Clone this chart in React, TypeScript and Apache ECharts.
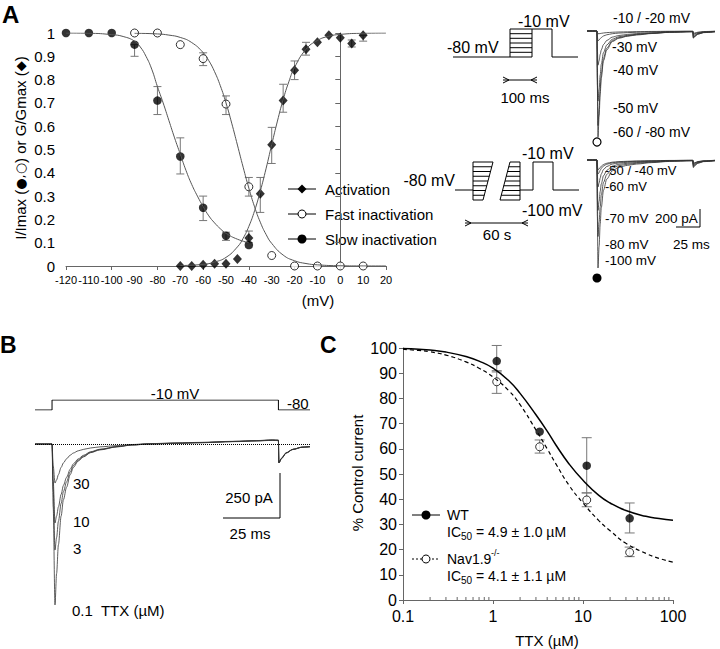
import React, { useEffect, useRef } from "react";
import * as echarts from "echarts";

const FONT = "'Liberation Sans', Arial, Helvetica, sans-serif";

// ---------------- Panel A : activation / inactivation ----------------
const actV = [-70, -65, -60, -55, -50, -45, -40, -35, -30, -25, -20, -15, -10, -5, 0, 5, 10];
const actG = [0, 0, 0.005, 0.01, 0.01, 0.03, 0.12, 0.31, 0.52, 0.71, 0.84, 0.93, 0.96, 0.99, 0.98, 0.955, 0.99];
const actErr = [
  [-40, 0.1, 0.15], [-35, 0.23, 0.38], [-30, 0.44, 0.595], [-25, 0.66, 0.78],
  [-20, 0.8, 0.88], [-15, 0.905, 0.96], [5, 0.94, 0.97], [10, 0.965, 0.99],
];
const fastV = [-90, -80, -70, -60, -50, -40, -30, -20, -10, 0, 10];
const fastI = [1, 1, 0.95, 0.89, 0.695, 0.34, 0.045, 0, 0, 0, 0];
const fastErr = [[-60, 0.86, 0.915], [-50, 0.65, 0.73], [-40, 0.3, 0.38]];
const slowV = [-120, -110, -100, -90, -80, -70, -60, -50, -40];
const slowI = [1, 1, 1, 0.95, 0.71, 0.47, 0.25, 0.13, 0.09];
const slowErr = [[-90, 0.9, 0.95], [-80, 0.65, 0.77], [-70, 0.395, 0.55], [-60, 0.195, 0.3], [-50, 0.11, 0.145]];

const actFitV = [-70, -60, -55, -50, -45, -42.5, -40, -37.5, -35, -32.5, -30, -27.5, -25, -22.5, -20, -15, -10, -5, 0, 10, 20];
const actFitG = [0.002, 0.007, 0.017, 0.037, 0.082, 0.119, 0.17, 0.237, 0.321, 0.417, 0.521, 0.622, 0.714, 0.791, 0.852, 0.93, 0.968, 0.986, 0.994, 0.999, 1];
const fastFitV = [-90, -80, -75, -70, -65, -60, -57.5, -55, -52.5, -50, -47.5, -45, -42.5, -40, -37.5, -35, -32.5, -30, -25, -20, -15, -10, 0, 10, 20];
const fastFitI = [0.999, 0.996, 0.991, 0.981, 0.959, 0.916, 0.881, 0.834, 0.774, 0.7, 0.613, 0.519, 0.424, 0.334, 0.254, 0.188, 0.136, 0.097, 0.047, 0.0225, 0.0106, 0.005, 0.001, 0.0002, 0];
const slowFitV = [-120, -110, -100, -95, -90, -87.5, -85, -82.5, -80, -77.5, -75, -72.5, -70, -67.5, -65, -62.5, -60, -57.5, -55, -52.5, -50, -45, -40];
const slowFitI = [1, 0.999, 0.993, 0.985, 0.965, 0.94, 0.9, 0.845, 0.77, 0.7, 0.625, 0.55, 0.48, 0.41, 0.35, 0.3, 0.255, 0.215, 0.185, 0.16, 0.14, 0.115, 0.1];

// ---------------- Panel A : current traces (ms, pA) ----------------
const traceT = [-9, 0, 0.4, 1, 2, 3, 4, 6, 9, 14, 20, 28, 36, 50, 66, 86, 87.3, 87.7, 89, 92, 97, 107.4];
const fastM60 = [0, 0, -600, -1180, -950, -700, -520, -330, -210, -118, -80, -58, -44, -28, -15, -8, -8, -80, -60, -35, -18, -8];
const fastM50 = [0, 0, -520, -1050, -860, -640, -480, -300, -190, -108, -74, -54, -40, -26, -14, -8, -8, -76, -57, -33, -17, -8];
const fastM40 = [0, 0, -400, -780, -650, -490, -370, -240, -155, -92, -64, -48, -36, -24, -13, -7, -7, -70, -52, -30, -15, -7];
const fastM30 = [0, 0, -200, -380, -330, -260, -210, -150, -105, -68, -50, -38, -29, -20, -11, -6, -6, -55, -42, -25, -12, -6];
const fastM20 = [0, 0, -60, -110, -100, -85, -72, -55, -42, -30, -23, -18, -14, -10, -6, -4, -4, -40, -30, -18, -9, -4];
const fastM10 = [0, 0, -20, -30, -30, -28, -26, -22, -18, -14, -11, -9, -7, -5, -3, -2, -2, -30, -22, -13, -6, -2];
const slowM100 = [0, 0, -620, -1200, -960, -710, -530, -335, -212, -120, -81, -59, -45, -29, -16, -9, -9, -85, -62, -36, -18, -9];
const slowM80 = [0, 0, -440, -850, -690, -520, -390, -250, -160, -92, -63, -47, -36, -24, -13, -8, -8, -75, -55, -32, -16, -8];
const slowM70 = [0, 0, -290, -560, -460, -350, -265, -175, -115, -68, -48, -36, -28, -19, -11, -6, -6, -65, -48, -28, -14, -6];
const slowM60 = [0, 0, -160, -300, -255, -200, -155, -105, -72, -45, -33, -25, -20, -14, -8, -5, -5, -55, -40, -23, -12, -5];
const slowM50 = [0, 0, -85, -156, -140, -115, -92, -66, -47, -31, -23, -18, -14, -10, -6, -4, -4, -45, -33, -19, -10, -4];
const slowM40 = [0, 0, -60, -108, -100, -84, -68, -50, -36, -24, -18, -14, -11, -8, -5, -3, -3, -40, -30, -17, -9, -3];

// ---------------- Panel B : TTX traces (ms, pA) ----------------
const bProtoT = [-7.5, 0, 0, 99.6, 99.6, 113.5];
const bProtoV = [-80, -80, -10, -10, -80, -80];
const bTime = [-7.5, 0, 0.5, 1.3, 2, 2.8, 4, 5, 6.4, 8, 9.4, 11.5, 13.8, 17, 21, 28.6, 35, 43, 55, 65, 80, 90, 97, 99.6, 99.8, 101, 103, 106, 110, 113.5];
const bTtx01 = [0, 0, -350, -894, -720, -560, -400, -310, -240, -170, -130, -95, -72, -48, -33, -16, -6, 0, 4, 7, 14, 18, 22, 20, -105, -80, -50, -30, -18, -15];
const bTtx3 = [0, 0, -250, -589, -520, -430, -330, -265, -210, -155, -120, -90, -68, -46, -31, -15, -5, 0, 4, 7, 13, 17, 20, 19, -105, -80, -50, -30, -18, -15];
const bTtx10 = [0, 0, -200, -439, -400, -350, -280, -230, -185, -140, -110, -83, -63, -43, -29, -14, -5, 1, 5, 8, 14, 18, 21, 20, -105, -80, -50, -30, -18, -15];
const bTtx30 = [0, 0, -120, -217, -200, -170, -130, -105, -82, -62, -50, -38, -30, -22, -16, -9, -3, 2, 6, 9, 15, 19, 23, 22, -100, -78, -48, -29, -17, -14];

// ---------------- Panel C : dose response ----------------
const ttxConc = [0.1, 0.33, 1.1, 3.3, 11, 33];
const wtCurrent = [101, 101, 94.8, 66.8, 53.3, 32.4];
const navConc = [1.1, 3.3, 11, 33];
const navCurrent = [86.6, 60.8, 39.7, 18.9];
const wtErr = [[1.1, 90.5, 101], [11, 42.5, 64.4], [33, 26.6, 38.5]];
const navErr = [[1.1, 82, 91], [3.3, 58.3, 63.5], [11, 37, 42.5], [33, 17.2, 21]];
const fitConc = [0.1, 0.15, 0.2, 0.3, 0.5, 0.7, 1, 1.5, 2, 3, 4, 5, 7, 10, 15, 20, 30, 50, 70, 100];
const wtFit = [99.8, 99.5, 99.2, 98.4, 96.6, 94.8, 92, 87, 82, 73.5, 67, 61.5, 54, 47.5, 41.5, 38.5, 35.5, 33.2, 32.3, 31.6];
const navFit = [99.5, 99, 98.5, 97.2, 94.5, 92, 88.5, 83, 77.5, 67.5, 60, 54, 45.5, 38.5, 31.5, 27.5, 22.5, 18.5, 16.5, 15];
const cMinorTicks = [0.2, 0.3, 0.4, 0.5, 0.6, 0.7, 0.8, 0.9, 2, 3, 4, 5, 6, 7, 8, 9, 20, 30, 40, 50, 60, 70, 80, 90];

const zip = (a: number[], b: number[]) => a.map((v, i) => [v, b[i]]);

const errRender = (capW: number, color: string) => (_p: any, api: any) => {
  const x = api.value(0);
  const lo = api.coord([x, api.value(1)]);
  const hi = api.coord([x, api.value(2)]);
  const h = capW / 2;
  const st = { stroke: color, lineWidth: 1 };
  return {
    type: "group",
    children: [
      { type: "line", shape: { x1: lo[0], y1: lo[1], x2: hi[0], y2: hi[1] }, style: st },
      { type: "line", shape: { x1: lo[0] - h, y1: lo[1], x2: lo[0] + h, y2: lo[1] }, style: st },
      { type: "line", shape: { x1: hi[0] - h, y1: hi[1], x2: hi[0] + h, y2: hi[1] }, style: st },
    ],
  };
};

const T = (text: string, x: number, y: number, o: any = {}) => ({
  type: "text",
  x,
  y,
  rotation: o.rot || 0,
  silent: true,
  style: {
    text,
    fontSize: o.size || 15,
    fontFamily: FONT,
    fontWeight: o.bold ? "bold" : "normal",
    fill: "#000",
    textAlign: o.align || "left",
    textVerticalAlign: "middle",
    rich: o.rich,
  },
});
const L = (x1: number, y1: number, x2: number, y2: number, o: any = {}) => ({
  type: "line",
  silent: true,
  shape: { x1, y1, x2, y2 },
  style: { stroke: o.color || "#000", lineWidth: o.w || 1, lineDash: o.dash },
});
const PL = (points: number[][], o: any = {}) => ({
  type: "polyline",
  silent: true,
  shape: { points },
  style: { stroke: o.color || "#000", lineWidth: o.w || 1, fill: null },
});

function buildGraphics() {
  const g: any[] = [];
  g.push(T("A", 2, 14, { size: 24, bold: true }));
  g.push(T("B", 0, 345, { size: 23, bold: true }));
  g.push(T("C", 320, 345, { size: 23, bold: true }));

  // Panel A axis titles
  g.push(
    T("{a|I/Imax (}{s|\u25CF,\u25CB}{a|) or G/Gmax (}{s|\u25C6}{a|)}", 20, 148, {
      rot: Math.PI / 2,
      align: "center",
      rich: {
        a: { fontSize: 15, fontFamily: FONT, fill: "#000" },
        s: { fontSize: 13, fontFamily: "'DejaVu Sans', sans-serif", fill: "#000" },
      },
    })
  );
  g.push(T("(mV)", 318, 300, { align: "center" }));

  // Panel A legend
  const lx1 = 288, lx2 = 316, sx = 302, tx = 325;
  g.push(L(lx1, 189, lx2, 189));
  g.push({ type: "polygon", silent: true, shape: { points: [[sx, 184.5], [sx + 4.5, 189], [sx, 193.5], [sx - 4.5, 189]] }, style: { fill: "#000" } });
  g.push(T("Activation", tx, 189));
  g.push(L(lx1, 214, lx2, 214));
  g.push({ type: "circle", silent: true, shape: { cx: sx, cy: 214, r: 4 }, style: { fill: "#fff", stroke: "#000", lineWidth: 1 } });
  g.push(T("Fast inactivation", tx, 214));
  g.push(L(lx1, 239, lx2, 239));
  g.push({ type: "circle", silent: true, shape: { cx: sx, cy: 239, r: 4.5 }, style: { fill: "#000" } });
  g.push(T("Slow inactivation", tx, 239));

  // Schematic 1 (fast inactivation protocol)
  g.push(T("-80 mV", 447, 47, { size: 16 }));
  g.push(T("-10 mV", 518, 21, { size: 16 }));
  g.push(PL([[453, 57], [510, 57]]));
  g.push({ type: "rect", silent: true, shape: { x: 510, y: 29, width: 22, height: 28 }, style: { stroke: "#000", fill: null, lineWidth: 1 } });
  [33.7, 38.3, 43, 47.7, 52.3].forEach((y) => g.push(L(510, y, 532, y)));
  g.push(PL([[532, 29], [552, 29], [552, 57], [578, 57]]));
  g.push(L(503, 80, 537, 80));
  g.push(PL([[503, 77], [509, 80], [503, 83]]));
  g.push(PL([[537, 77], [531, 80], [537, 83]]));
  g.push(T("100 ms", 525, 97, { align: "center" }));

  // Schematic 2 (slow inactivation protocol)
  g.push(T("-80 mV", 455, 180, { size: 16, align: "right" }));
  g.push(T("-10 mV", 522, 153, { size: 16 }));
  g.push(T("-100 mV", 522, 210, { size: 16 }));
  g.push(PL([[455, 190], [473, 190]]));
  g.push({ type: "polygon", silent: true, shape: { points: [[473, 162], [493, 162], [483, 200], [473, 200]] }, style: { stroke: "#000", fill: null, lineWidth: 1 } });
  g.push({ type: "polygon", silent: true, shape: { points: [[510, 162], [520, 162], [520, 200], [500, 200]] }, style: { stroke: "#000", fill: null, lineWidth: 1 } });
  for (let i = 1; i < 8; i++) {
    const y = 162 + i * 4.75;
    const f = (y - 162) / 38;
    g.push(L(473, y, 493 - f * 10, y));
    g.push(L(510 - f * 10, y, 520, y));
  }
  g.push(PL([[520, 190], [533, 190], [533, 162], [553, 162], [553, 190], [579, 190]]));
  g.push(L(465, 223, 528, 223));
  g.push(PL([[465, 220], [471, 223], [465, 226]]));
  g.push(PL([[528, 220], [522, 223], [528, 226]]));
  g.push(T("60 s", 497, 234, { align: "center" }));

  // Trace labels (A)
  g.push(T("-10 / -20 mV", 613, 18, { size: 14 }));
  g.push(T("-30 mV", 612, 47, { size: 14 }));
  g.push(T("-40 mV", 613, 70, { size: 14 }));
  g.push(T("-50 mV", 613, 108, { size: 14 }));
  g.push(T("-60 / -80 mV", 613, 132, { size: 14 }));
  g.push({ type: "circle", silent: true, shape: { cx: 597, cy: 142, r: 4 }, style: { fill: "#fff", stroke: "#000", lineWidth: 1.2 } });
  g.push(T("-50 / -40 mV", 605, 170, { size: 13 }));
  g.push(T("-60 mV", 605, 186, { size: 13 }));
  g.push(T("-70 mV", 605, 218, { size: 13.5 }));
  g.push(T("-80 mV", 605, 244, { size: 13.5 }));
  g.push(T("-100 mV", 605, 260, { size: 13.5 }));
  g.push({ type: "circle", silent: true, shape: { cx: 597, cy: 278, r: 4.5 }, style: { fill: "#000" } });
  g.push(T("200 pA", 655, 218, { size: 13.5 }));
  g.push(L(700, 209, 700, 227));
  g.push(L(676, 227, 700, 227));
  g.push(T("25 ms", 673, 244, { size: 13.5 }));

  // Panel B labels
  g.push(T("-10 mV", 175, 393, { align: "center" }));
  g.push(T("-80", 287, 403));
  g.push(T("30", 73, 483));
  g.push(T("10", 73, 521));
  g.push(T("3", 73, 548));
  g.push(T("0.1  TTX (\u00B5M)", 72, 610));
  g.push(L(280, 473, 280, 518));
  g.push(L(223, 518, 280, 518));
  g.push(T("250 pA", 249, 497, { align: "center" }));
  g.push(T("25 ms", 250, 533, { align: "center" }));

  // Panel C titles
  g.push(T("% Control current", 357, 473, { rot: Math.PI / 2, align: "center" }));
  g.push(T("TTX (\u00B5M)", 547, 640, { align: "center" }));

  // Panel C legend
  g.push(L(412, 515, 440, 515));
  g.push({ type: "circle", silent: true, shape: { cx: 426, cy: 515, r: 4.5 }, style: { fill: "#000" } });
  g.push(T("WT", 447, 515, { size: 14 }));
  g.push(T("IC", 447, 532, { size: 14 }));
  g.push(T("50", 461, 536, { size: 10 }));
  g.push(T("= 4.9 \u00B1 1.0 \u00B5M", 476, 532, { size: 14 }));
  g.push(L(412, 559, 440, 559, { dash: [2, 2] }));
  g.push({ type: "circle", silent: true, shape: { cx: 426, cy: 559, r: 4 }, style: { fill: "#fff", stroke: "#000", lineWidth: 1 } });
  g.push(T("Nav1.9", 447, 559, { size: 14 }));
  g.push(T("-/-", 491, 553, { size: 9 }));
  g.push(T("IC", 447, 576, { size: 14 }));
  g.push(T("50", 461, 580, { size: 10 }));
  g.push(T("= 4.1 \u00B1 1.1 \u00B5M", 476, 576, { size: 14 }));
  return g;
}

const hiddenX = (gi: number, min: number, max: number) => ({ gridIndex: gi, type: "value", min, max, show: false });
const hiddenY = (gi: number, min: number, max: number) => ({ gridIndex: gi, type: "value", min, max, show: false });

const traceLine = (t: number[], d: number[], xi: number, yi: number, extra: any = {}) => ({
  type: "line",
  xAxisIndex: xi,
  yAxisIndex: yi,
  data: zip(t, d),
  symbol: "none",
  smooth: 0.3,
  smoothMonotone: "x",
  silent: true,
  lineStyle: { color: "#333", width: 0.8 },
  ...extra,
});

function buildOption() {
  const axisColor = "#666";
  const fitStyle = { color: "#555", width: 1 };
  return {
    animation: false,
    backgroundColor: "#fff",
    textStyle: { fontFamily: FONT },
    grid: [
      { left: 66, top: 33, width: 320, height: 233 },
      { left: 587, top: 22, width: 128, height: 121.5 },
      { left: 587, top: 151, width: 128, height: 121.5 },
      { left: 35, top: 400, width: 275, height: 10 },
      { left: 35, top: 435, width: 275, height: 171 },
      { left: 403, top: 348, width: 270, height: 252 },
    ],
    xAxis: [
      {
        gridIndex: 0, type: "value", min: -120, max: 20, interval: 10,
        axisLine: { show: true, lineStyle: { color: axisColor } },
        axisTick: { show: false }, splitLine: { show: false },
        axisLabel: { fontSize: 11, color: "#000", margin: 8, fontFamily: FONT, showMinLabel: true, showMaxLabel: true, hideOverlap: false },
      },
      {
        gridIndex: 0, type: "value", position: "bottom", min: -120, max: 20, interval: 20,
        axisLine: { show: false }, axisTick: { show: true, length: 4, lineStyle: { color: axisColor } },
        axisLabel: { show: false }, splitLine: { show: false },
      },
      hiddenX(1, -9, 107.4),
      hiddenX(2, -9, 107.4),
      hiddenX(3, -7.5, 113.5),
      hiddenX(4, -7.5, 113.5),
      {
        gridIndex: 5, type: "log", logBase: 10, min: 0.1, max: 100,
        axisLine: { show: true, lineStyle: { color: axisColor } },
        axisTick: { show: true, length: 4, lineStyle: { color: axisColor } },
        splitLine: { show: false }, minorTick: { show: false },
        axisLabel: { fontSize: 16, color: "#000", margin: 8, fontFamily: FONT, formatter: (v: number) => String(Number(v.toPrecision(3))) },
      },
    ],
    yAxis: [
      {
        gridIndex: 0, type: "value", min: 0, max: 1, interval: 0.1,
        axisLine: { show: true, lineStyle: { color: axisColor } },
        axisTick: { show: true, length: 5, lineStyle: { color: axisColor } },
        splitLine: { show: false },
        axisLabel: { fontSize: 15, color: "#000", margin: 11, fontFamily: FONT },
      },
      hiddenY(1, -1250, 100),
      hiddenY(2, -1250, 100),
      hiddenY(3, -80, -10),
      hiddenY(4, -900, 50),
      {
        gridIndex: 5, type: "value", min: 0, max: 100, interval: 10,
        axisLine: { show: true, lineStyle: { color: axisColor } },
        axisTick: { show: true, length: 4, lineStyle: { color: axisColor } },
        splitLine: { show: false },
        axisLabel: { fontSize: 16, color: "#000", margin: 6, fontFamily: FONT },
      },
    ],
    series: [
      { type: "line", xAxisIndex: 0, yAxisIndex: 0, data: zip(actFitV, actFitG), symbol: "none", smooth: true, lineStyle: fitStyle, silent: true },
      { type: "line", xAxisIndex: 0, yAxisIndex: 0, data: zip(fastFitV, fastFitI), symbol: "none", smooth: true, lineStyle: fitStyle, silent: true },
      { type: "line", xAxisIndex: 0, yAxisIndex: 0, data: zip(slowFitV, slowFitI), symbol: "none", smooth: true, lineStyle: fitStyle, silent: true },
      { type: "custom", xAxisIndex: 0, yAxisIndex: 0, data: [...actErr, ...fastErr, ...slowErr], renderItem: errRender(8, "#777"), encode: { x: 0, y: [1, 2] }, clip: false, silent: true },
      { type: "scatter", xAxisIndex: 0, yAxisIndex: 0, data: zip(actV, actG), symbol: "diamond", symbolSize: [9, 10], itemStyle: { color: "#000" }, silent: true },
      { type: "scatter", xAxisIndex: 0, yAxisIndex: 0, data: zip(fastV, fastI), symbol: "circle", symbolSize: 8, itemStyle: { color: "#fff", borderColor: "#000", borderWidth: 1 }, silent: true },
      { type: "scatter", xAxisIndex: 0, yAxisIndex: 0, data: zip(slowV, slowI), symbol: "circle", symbolSize: 8.5, itemStyle: { color: "#000" }, silent: true },
      traceLine(traceT, fastM10, 2, 1),
      traceLine(traceT, fastM20, 2, 1),
      traceLine(traceT, fastM30, 2, 1),
      traceLine(traceT, fastM40, 2, 1),
      traceLine(traceT, fastM50, 2, 1),
      traceLine(traceT, fastM60, 2, 1),
      traceLine(traceT, slowM40, 3, 2),
      traceLine(traceT, slowM50, 3, 2),
      traceLine(traceT, slowM60, 3, 2),
      traceLine(traceT, slowM70, 3, 2),
      traceLine(traceT, slowM80, 3, 2),
      traceLine(traceT, slowM100, 3, 2),
      { type: "line", xAxisIndex: 4, yAxisIndex: 3, data: zip(bProtoT, bProtoV), symbol: "none", lineStyle: { color: "#000", width: 1 }, silent: true },
      traceLine(bTime, bTtx01, 5, 4, {
        markLine: { silent: true, symbol: "none", label: { show: false }, lineStyle: { type: "dotted", color: "#000", width: 1 }, data: [{ yAxis: 0 }] },
      }),
      traceLine(bTime, bTtx3, 5, 4),
      traceLine(bTime, bTtx10, 5, 4),
      traceLine(bTime, bTtx30, 5, 4),
      {
        type: "custom", xAxisIndex: 6, yAxisIndex: 5, data: cMinorTicks.map((v) => [v, 0]), clip: false, silent: true,
        encode: { x: 0, y: 1 },
        renderItem: (_p: any, api: any) => {
          const p = api.coord([api.value(0), 0]);
          return { type: "line", shape: { x1: p[0], y1: p[1], x2: p[0], y2: p[1] - 3 }, style: { stroke: axisColor, lineWidth: 1 } };
        },
      },
      { type: "line", xAxisIndex: 6, yAxisIndex: 5, data: zip(fitConc, wtFit), symbol: "none", smooth: true, lineStyle: { color: "#000", width: 1.5 }, silent: true },
      { type: "line", xAxisIndex: 6, yAxisIndex: 5, data: zip(fitConc, navFit), symbol: "none", smooth: true, lineStyle: { color: "#000", width: 1.2, type: [4, 3] }, silent: true },
      { type: "custom", xAxisIndex: 6, yAxisIndex: 5, data: [...wtErr, ...navErr], renderItem: errRender(10, "#777"), encode: { x: 0, y: [1, 2] }, clip: false, silent: true },
      { type: "scatter", xAxisIndex: 6, yAxisIndex: 5, data: zip(navConc, navCurrent), symbol: "circle", symbolSize: 8, itemStyle: { color: "#fff", borderColor: "#000", borderWidth: 1 }, silent: true },
      { type: "scatter", xAxisIndex: 6, yAxisIndex: 5, data: zip(ttxConc, wtCurrent), symbol: "circle", symbolSize: 8.5, itemStyle: { color: "#000" }, silent: true },
    ],
    graphic: { elements: buildGraphics() },
  };
}

export default function App() {
  const ref = useRef<HTMLDivElement>(null);
  useEffect(() => {
    if (!ref.current) return;
    const chart = echarts.init(ref.current, undefined, { renderer: "svg" });
    chart.setOption(buildOption() as any);
    return () => chart.dispose();
  }, []);
  return (
    <div
      ref={ref}
      style={{ position: "absolute", left: 0, top: 0, width: 720, height: 649, background: "#fff" }}
    />
  );
}
